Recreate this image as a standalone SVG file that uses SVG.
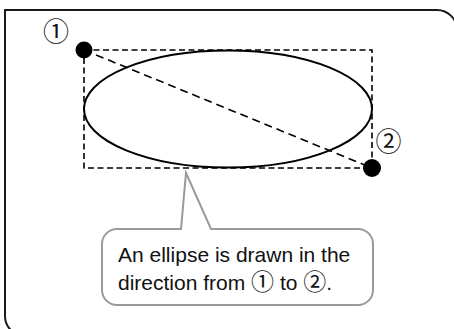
<svg xmlns="http://www.w3.org/2000/svg" width="454" height="329" viewBox="0 0 454 329">
  <style>
    .frame { fill: none; stroke: #1a1a1a; stroke-width: 2; }
    .bbox { fill: none; stroke: #000; stroke-width: 1.6; stroke-dasharray: 6 3.5; }
    .diag { fill: none; stroke: #000; stroke-width: 1.6; stroke-dasharray: 8 5; }
    .shape { fill: none; stroke: #000; stroke-width: 2; }
    .dot { fill: #000; }
    .callout { fill: #fff; stroke: #9a9a9a; stroke-width: 2; stroke-linejoin: miter; }
    .lbl { font-family: "Liberation Sans", "Noto Sans CJK JP", sans-serif; fill: #111; }
    .num { font-family: "Noto Sans CJK JP", "Noto Sans CJK SC", sans-serif; fill: #111; }
  </style>
  <g id="frame">
    <path class="frame" d="M5,10 H437 A20,20 0 0 1 457,30 V336 H25 A20,20 0 0 1 5,316 Z"/>
  </g>
  <g id="bounding-box">
    <rect class="bbox" x="84" y="50" width="288" height="118"/>
  </g>
  <g id="ellipse">
    <ellipse class="shape" cx="228" cy="109" rx="144" ry="58.5"/>
  </g>
  <g id="connectors">
    <line class="diag" x1="84" y1="50" x2="372" y2="168"/>
  </g>
  <g id="point1">
    <circle class="dot" cx="84" cy="50" r="8.5"/>
    <text class="num" x="43" y="40.5" font-size="26">①</text>
  </g>
  <g id="point2">
    <circle class="dot" cx="372" cy="168" r="9"/>
    <text class="num" x="375.5" y="150.5" font-size="26">②</text>
  </g>
  <g id="callout">
    <path class="callout" d="M117,229 H181 L186,173 L211,229 H358 A15,15 0 0 1 373,244 V290 A15,15 0 0 1 358,305 H117 A15,15 0 0 1 102,290 V244 A15,15 0 0 1 117,229 Z"/>
    <text class="lbl" x="118" y="262" font-size="21">An ellipse is drawn in the</text>
    <text class="lbl" x="118" y="290" font-size="21">direction from <tspan class="num" font-size="23">①</tspan> to <tspan class="num" font-size="23">②</tspan>.</text>
  </g>
</svg>
